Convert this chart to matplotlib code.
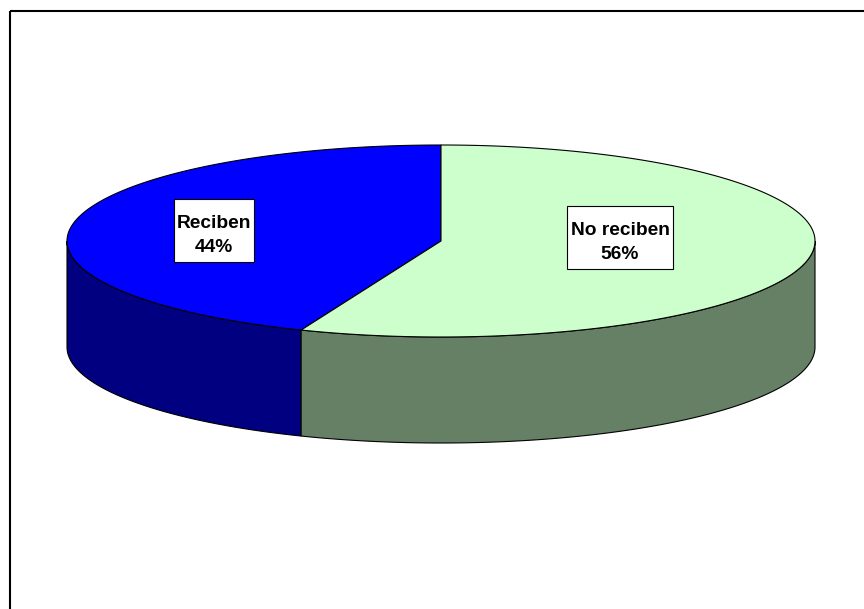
import numpy as np
import matplotlib
matplotlib.use("Agg")
import matplotlib.pyplot as plt
from matplotlib.patches import Polygon, Rectangle

# Chart data
labels = ["Reciben", "No reciben"]
values = [43.9, 56.1]
top_colors = ["#0000FF", "#CCFFCC"]
side_colors = ["#000080", "#668066"]

# Layout in pixels
fig_w, fig_h = 864, 609
cx, cy = 441, 241      # centre of the top ellipse
rx, ry = 374, 96       # ellipse radii
depth = 106            # height of the side wall
label_boxes = [(174, 199, 80, 63), (567, 206, 106, 63)]  # x, y, w, h

plt.rcParams['font.family'] = ['Liberation Sans', 'DejaVu Sans']

fig = plt.figure(figsize=(fig_w / 100, fig_h / 100), dpi=100)
ax = fig.add_axes([0, 0, 1, 1])
ax.set_xlim(0, fig_w)
ax.set_ylim(fig_h, 0)
ax.axis('off')


def arc(start, stop, dy=0):
    # Points along the ellipse between two angles (degrees, counter clockwise)
    t = np.radians(np.linspace(start, stop, 200))
    return np.column_stack([cx + rx * np.cos(t), cy + dy - ry * np.sin(t)])


# Outer frame, only left and top are inside the picture
ax.add_patch(Rectangle((9.5, 10.5), fig_w, fig_h, fill=False, ec='black', lw=1.5))

# Slices start at the top and go counter clockwise
angles = 90 + np.cumsum([0] + values) / sum(values) * 360
for i in range(len(values)):
    start, stop = angles[i], angles[i + 1]

    # Only the front part of the ellipse (180 to 360 degrees) has a visible wall
    wall_start, wall_stop = max(start, 180), min(stop, 360)
    if wall_stop > wall_start:
        upper = arc(wall_start, wall_stop)
        lower = arc(wall_start, wall_stop, depth)
        wall = np.vstack([upper, lower[::-1]])
        ax.add_patch(Polygon(wall, closed=True, fc=side_colors[i], ec='black', lw=0.8, zorder=2))

for i in range(len(values)):
    pts = np.vstack([[[cx, cy]], arc(angles[i], angles[i + 1])])
    ax.add_patch(Polygon(pts, closed=True, fc=top_colors[i], ec='black', lw=0.8, zorder=3))

# Data labels in white boxes
for i in range(len(values)):
    x, y, w, h = label_boxes[i]
    ax.add_patch(Rectangle((x, y), w, h, fc='white', ec='black', lw=0.8, zorder=4))
    ax.text(x + w / 2, y + h / 2 + 5, f"{labels[i]}\n{values[i]:.0f}%", ha='center', va='center',
            fontsize=13.8, fontweight='bold', color='black', linespacing=1.5, zorder=5)

fig.savefig("out.png", dpi=100)
